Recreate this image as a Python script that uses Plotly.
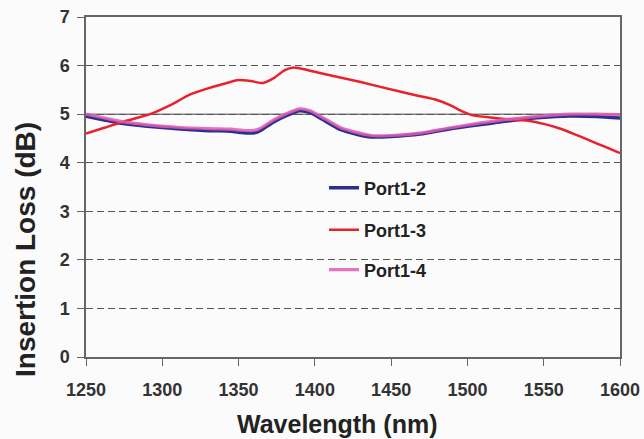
import plotly.graph_objects as go

# ---- data ----
wl_p13 = [1250, 1262, 1275, 1292, 1305, 1318, 1331, 1340, 1349, 1358, 1366, 1373, 1380, 1386,
          1395, 1404, 1430, 1455, 1469, 1480, 1489, 1497, 1503, 1515, 1528, 1541, 1550, 1560,
          1570, 1580, 1590, 1600]
il_p13 = [4.60, 4.72, 4.85, 5.00, 5.18, 5.40, 5.54, 5.62, 5.70, 5.68, 5.64, 5.74, 5.90, 5.96,
          5.91, 5.84, 5.66, 5.47, 5.37, 5.29, 5.18, 5.05, 4.98, 4.93, 4.89, 4.86, 4.80, 4.71,
          4.59, 4.46, 4.33, 4.20]

wl_p12 = [1250, 1262, 1273, 1290, 1310, 1331, 1345, 1352, 1358, 1363, 1373, 1382, 1390, 1397,
          1404, 1417, 1428, 1437, 1450, 1469, 1489, 1505, 1521, 1548, 1567, 1585, 1600]
il_p12 = [4.96, 4.88, 4.81, 4.75, 4.70, 4.66, 4.65, 4.62, 4.61, 4.64, 4.84, 4.98, 5.07, 5.03,
          4.91, 4.68, 4.58, 4.53, 4.54, 4.59, 4.70, 4.77, 4.84, 4.93, 4.96, 4.95, 4.92]

wl_p14 = wl_p12
il_p14 = [5.00, 4.92, 4.85, 4.78, 4.73, 4.70, 4.69, 4.67, 4.66, 4.69, 4.88, 5.02, 5.11, 5.07,
          4.95, 4.72, 4.62, 4.56, 4.56, 4.61, 4.72, 4.80, 4.87, 4.96, 5.00, 5.00, 4.99]

x_ticks = [1250, 1300, 1350, 1400, 1450, 1500, 1550, 1600]
y_ticks = [0, 1, 2, 3, 4, 5, 6, 7]
reference_level = 5

FONT = "Liberation Sans, Arial, sans-serif"

L, R, T, B = 86, 24, 17, 82
W, H = 644, 439
PW, PH = W - L - R, H - T - B


def px_x(p):
    return (p - L) / PW


def px_y(p):
    return (H - B - p) / PH


fig = go.Figure()
fig.add_trace(go.Scatter(x=wl_p12, y=il_p12, mode="lines", name="Port1-2",
                         line=dict(color="#2b2f8f", width=3.5, shape="spline", smoothing=0.6),
                         legend="legend"))
fig.add_trace(go.Scatter(x=wl_p13, y=il_p13, mode="lines", name="Port1-3",
                         line=dict(color="#e8222c", width=2.5, shape="spline", smoothing=0.6),
                         legend="legend2"))
fig.add_trace(go.Scatter(x=wl_p14, y=il_p14, mode="lines", name="Port1-4",
                         line=dict(color="#e05cb2", width=3.2, shape="spline", smoothing=0.6),
                         opacity=0.85, legend="legend3"))

fig.add_hline(y=reference_level, line=dict(color="#808080", width=1.5), layer="below")

leg_common = dict(xanchor="left", yanchor="middle", bgcolor="rgba(0,0,0,0)",
                  font=dict(family=FONT, size=18, color="#222222", weight="bold"),
                  itemwidth=30)
fig.update_layout(
    width=W, height=H,
    showlegend=True,
    margin=dict(l=L, r=R, t=T, b=B, autoexpand=False),
    paper_bgcolor="#fbfbfb", plot_bgcolor="#fbfbfb",
    legend=dict(x=px_x(324), y=px_y(188), **leg_common),
    legend2=dict(x=px_x(324), y=px_y(230), **leg_common),
    legend3=dict(x=px_x(324), y=px_y(270), **leg_common),
    xaxis=dict(range=[1250, 1600], tickvals=x_ticks, showgrid=False, zeroline=False,
               automargin=False,
               showline=True, linecolor="#666666", linewidth=1.5, mirror=True,
               ticks="outside", ticklen=7, tickcolor="#666666", ticklabelstandoff=9,
               ticklabeloverflow="allow",
               tickfont=dict(family=FONT, size=18, color="#333333", weight="bold")),
    yaxis=dict(range=[0, 7], tickvals=y_ticks, showgrid=True, gridcolor="#555555",
               griddash="7px,4px", gridwidth=1, zeroline=False,
               automargin=False,
               showline=True, linecolor="#666666", linewidth=1.5, mirror=True,
               ticks="outside", ticklen=7, tickcolor="#666666", ticklabelstandoff=4,
               ticklabeloverflow="allow",
               tickfont=dict(family=FONT, size=18, color="#333333", weight="bold")),
    annotations=[
        dict(text="Wavelength (nm)", xref="paper", yref="paper", x=px_x(337),
             y=px_y(424), xanchor="center", yanchor="middle", showarrow=False,
             font=dict(family=FONT, size=25, color="#222222", weight="bold")),
        dict(text="Insertion Loss (dB)", xref="paper", yref="paper", x=px_x(25),
             y=px_y(250), xanchor="center", yanchor="middle", showarrow=False,
             textangle=-90,
             font=dict(family=FONT, size=28, color="#222222", weight="bold")),
    ],
)

fig.write_html("out.html", config={"displayModeBar": False},
               post_script="document.body.style.margin='0';document.body.style.background='#fbfbfb';")
